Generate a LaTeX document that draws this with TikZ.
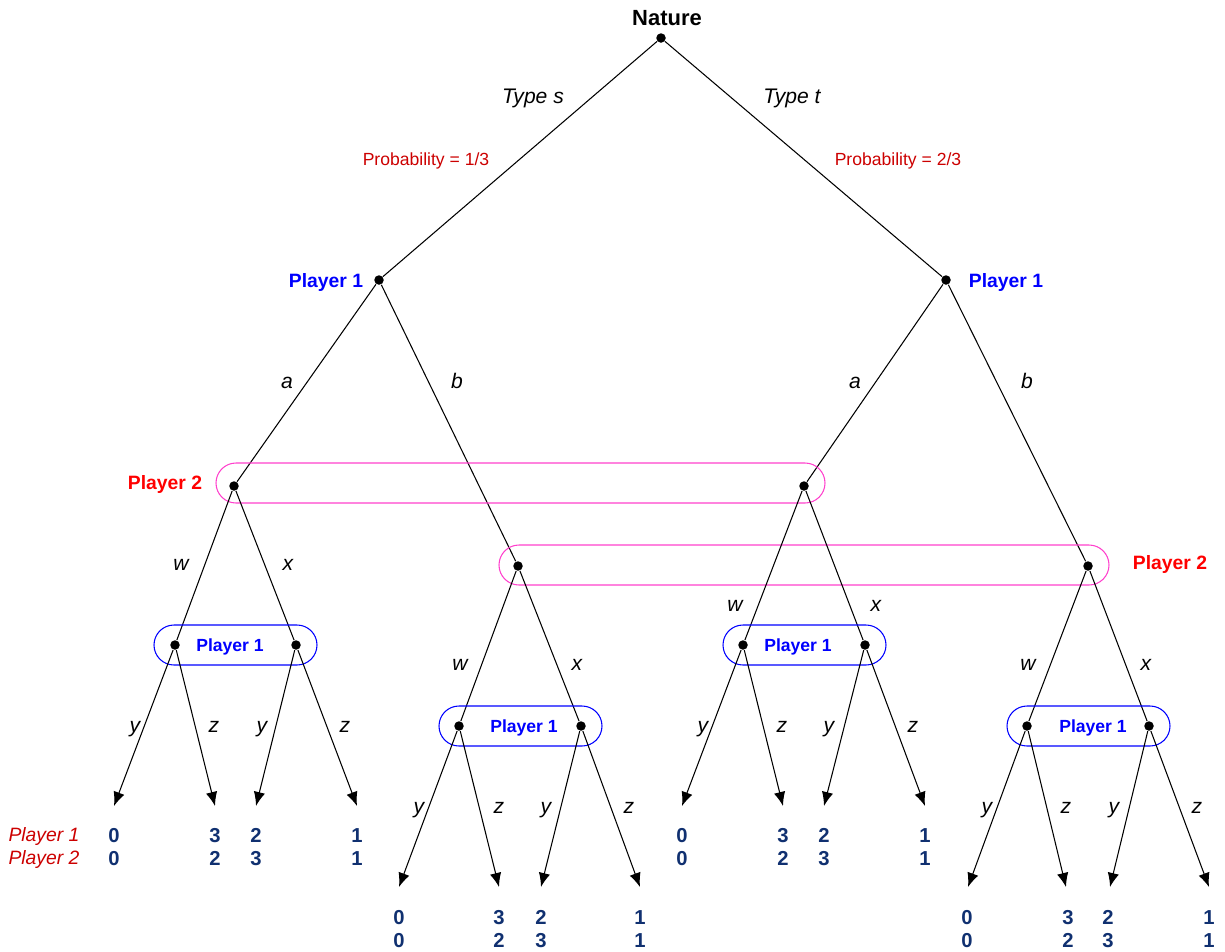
\documentclass[tikz,border=0pt]{standalone}
\usepackage{fontspec}
\setmainfont{Liberation Sans}
\usepackage{xcolor}
\usetikzlibrary{arrows.meta}

\definecolor{probred}{RGB}{204,0,0}
\definecolor{payblue}{RGB}{16,48,112}
\definecolor{infopink}{RGB}{255,64,204}
\definecolor{pblue}{RGB}{0,0,255}
\definecolor{pred}{RGB}{255,0,0}

% two payoffs, one above the other, with fixed box height and depth
\newcommand{\pay}[2]{\rule{0pt}{9pt}#1\\#2\rule[-1pt]{0pt}{1pt}}

\begin{document}
\begin{tikzpicture}[x=0.02cm,y=-0.02cm,line width=0.6pt,
  decnode/.style={circle,fill=black,inner sep=0pt,minimum size=0.19cm},
  movelbl/.style={font=\fontsize{12}{14}\selectfont\itshape,anchor=base},
  problbl/.style={font=\fontsize{10}{12}\selectfont,text=probred,anchor=base},
  oneLbl/.style={font=\fontsize{11}{13}\selectfont\bfseries,text=pblue,anchor=base},
  twoLbl/.style={font=\fontsize{11}{13}\selectfont\bfseries,text=pred,anchor=base},
  payoff/.style={font=\fontsize{11.5}{13.6}\selectfont\bfseries,text=payblue,align=center},
  infoOne/.style={draw=pblue,rounded corners=0.4cm},
  infoTwo/.style={draw=infopink,rounded corners=0.4cm},
  leaf/.style={-{Latex[length=8pt,width=6.5pt]}}]

  \useasboundingbox (0,0) rectangle (1225,951);

  % nature
  \node[decnode] (nat) at (661,38) {};
  \node[font=\fontsize{12.5}{14}\selectfont\bfseries,anchor=base] (natlbl) at (667,25) {Nature};

  \node[decnode] (sP1) at (379,280) {};
  \node[decnode] (tP1) at (946,280) {};
  \draw (nat) -- (sP1);
  \draw (nat) -- (tP1);
  \node[movelbl] (typs) at (533,103) {Type s};
  \node[movelbl] (typt) at (792,103) {Type t};
  \node[problbl] (probs) at (426,165) {Probability = 1/3};
  \node[problbl] (probt) at (898,165) {Probability = 2/3};
  \node[oneLbl] (sP1lbl) at (326,287) {Player 1};
  \node[oneLbl] (tP1lbl) at (1006,287) {Player 1};

  % player 2 nodes
  \node[decnode] (saP2) at (234,486) {};
  \node[decnode] (sbP2) at (518,566) {};
  \node[decnode] (taP2) at (804,486) {};
  \node[decnode] (tbP2) at (1088,566) {};
  \draw (sP1) -- (saP2);
  \draw (sP1) -- (sbP2);
  \draw (tP1) -- (taP2);
  \draw (tP1) -- (tbP2);
  \node[movelbl] (sa) at (287,388) {a};
  \node[movelbl] (sb) at (457,388) {b};
  \node[movelbl] (ta) at (855,388) {a};
  \node[movelbl] (tb) at (1027,388) {b};

  \draw[infoTwo] (216,463) rectangle (825,503);
  \draw[infoTwo] (499,545) rectangle (1109,585);
  \node[twoLbl] (P2a) at (165,489) {Player 2};
  \node[twoLbl] (P2b) at (1170,569) {Player 2};

  % s, a
  \node[decnode] (saw) at (175,645) {};
  \node[decnode] (sax) at (296,645) {};
  \draw (saP2) -- (saw);
  \draw (saP2) -- (sax);
  \node[movelbl] (saWl) at (181,570) {w};
  \node[movelbl] (saXl) at (288,570) {x};
  \draw[infoOne] (154,625) rectangle (317,665);
  \node[oneLbl,font=\fontsize{10}{12}\selectfont\bfseries] (saP1) at (230,651) {Player 1};
  \coordinate (sawy) at (114,806);
  \coordinate (sawz) at (215,806);
  \coordinate (saxy) at (256,806);
  \coordinate (saxz) at (357,806);
  \draw[leaf] (saw) -- (sawy);
  \draw[leaf] (saw) -- (sawz);
  \draw[leaf] (sax) -- (saxy);
  \draw[leaf] (sax) -- (saxz);
  \node[movelbl] at (135,732) {y};
  \node[movelbl] at (214,732) {z};
  \node[movelbl] at (262,732) {y};
  \node[movelbl] at (345,732) {z};
  \node[payoff] at (114,847) {\pay{0}{0}};
  \node[payoff] at (215,847) {\pay{3}{2}};
  \node[payoff] at (256,847) {\pay{2}{3}};
  \node[payoff] at (357,847) {\pay{1}{1}};
  \node[font=\fontsize{11}{13.6}\selectfont\itshape,text=probred,align=left] (plrs) at (44,848) {Player 1\\Player 2};

  % s, b
  \node[decnode] (sbw) at (459,726) {};
  \node[decnode] (sbx) at (581,726) {};
  \draw (sbP2) -- (sbw);
  \draw (sbP2) -- (sbx);
  \node[movelbl] (sbWl) at (460,670) {w};
  \node[movelbl] (sbXl) at (577,670) {x};
  \draw[infoOne] (439,706) rectangle (602,746);
  \node[oneLbl,font=\fontsize{10}{12}\selectfont\bfseries] (sbP1) at (524,732) {Player 1};
  \coordinate (sbwy) at (399,887);
  \coordinate (sbwz) at (499,887);
  \coordinate (sbxy) at (541,887);
  \coordinate (sbxz) at (640,887);
  \draw[leaf] (sbw) -- (sbwy);
  \draw[leaf] (sbw) -- (sbwz);
  \draw[leaf] (sbx) -- (sbxy);
  \draw[leaf] (sbx) -- (sbxz);
  \node[movelbl] at (419,813) {y};
  \node[movelbl] at (499,813) {z};
  \node[movelbl] at (546,813) {y};
  \node[movelbl] at (629,813) {z};
  \node[payoff] at (399,929) {\pay{0}{0}};
  \node[payoff] at (499,929) {\pay{3}{2}};
  \node[payoff] at (541,929) {\pay{2}{3}};
  \node[payoff] at (640,929) {\pay{1}{1}};

  % t, a
  \node[decnode] (taw) at (743,645) {};
  \node[decnode] (tax) at (865,645) {};
  \draw (taP2) -- (taw);
  \draw (taP2) -- (tax);
  \node[movelbl] (taWl) at (735,611) {w};
  \node[movelbl] (taXl) at (876,611) {x};
  \draw[infoOne] (723,625) rectangle (886,665);
  \node[oneLbl,font=\fontsize{10}{12}\selectfont\bfseries] (taP1) at (798,651) {Player 1};
  \coordinate (tawy) at (682,806);
  \coordinate (tawz) at (783,806);
  \coordinate (taxy) at (824,806);
  \coordinate (taxz) at (925,806);
  \draw[leaf] (taw) -- (tawy);
  \draw[leaf] (taw) -- (tawz);
  \draw[leaf] (tax) -- (taxy);
  \draw[leaf] (tax) -- (taxz);
  \node[movelbl] at (703,732) {y};
  \node[movelbl] at (782,732) {z};
  \node[movelbl] at (829,732) {y};
  \node[movelbl] at (913,732) {z};
  \node[payoff] at (682,847) {\pay{0}{0}};
  \node[payoff] at (783,847) {\pay{3}{2}};
  \node[payoff] at (824,847) {\pay{2}{3}};
  \node[payoff] at (925,847) {\pay{1}{1}};

  % t, b
  \node[decnode] (tbw) at (1027,726) {};
  \node[decnode] (tbx) at (1149,726) {};
  \draw (tbP2) -- (tbw);
  \draw (tbP2) -- (tbx);
  \node[movelbl] (tbWl) at (1028,670) {w};
  \node[movelbl] (tbXl) at (1146,670) {x};
  \draw[infoOne] (1007,706) rectangle (1170,746);
  \node[oneLbl,font=\fontsize{10}{12}\selectfont\bfseries] (tbP1) at (1093,732) {Player 1};
  \coordinate (tbwy) at (968,887);
  \coordinate (tbwz) at (1066,887);
  \coordinate (tbxy) at (1110,887);
  \coordinate (tbxz) at (1209,887);
  \draw[leaf] (tbw) -- (tbwy);
  \draw[leaf] (tbw) -- (tbwz);
  \draw[leaf] (tbx) -- (tbxy);
  \draw[leaf] (tbx) -- (tbxz);
  \node[movelbl] at (987,813) {y};
  \node[movelbl] at (1066,813) {z};
  \node[movelbl] at (1114,813) {y};
  \node[movelbl] at (1197,813) {z};
  \node[payoff] at (967,929) {\pay{0}{0}};
  \node[payoff] at (1068,929) {\pay{3}{2}};
  \node[payoff] at (1108,929) {\pay{2}{3}};
  \node[payoff] at (1209,929) {\pay{1}{1}};

\end{tikzpicture}
\end{document}
